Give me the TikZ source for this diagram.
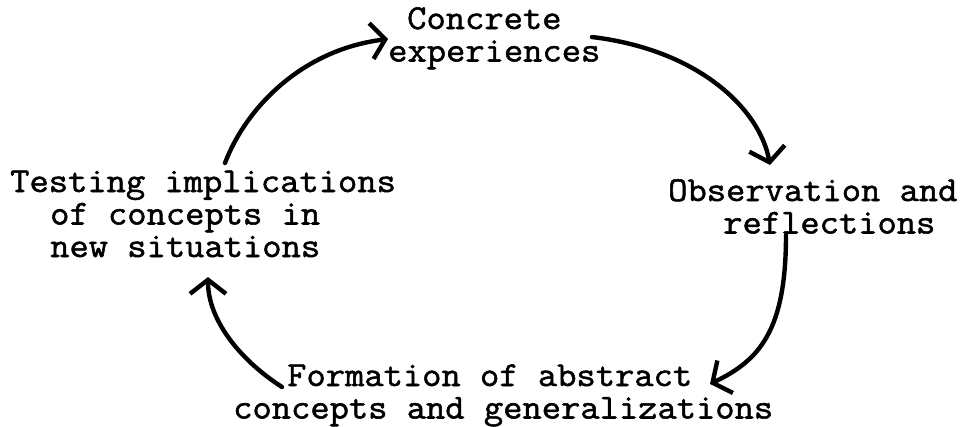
\documentclass[tikz,border=0pt]{standalone}
\usepackage{fontspec}
\usetikzlibrary{arrows.meta,calc}
\newfontfamily\typew{Latin Modern Mono}[FakeStretch=1.07,FakeBold=1.5]
\newcommand{\lblfont}{\typew\fontsize{35}{32.5}\selectfont}
\newcommand{\lines}[1]{\begin{tabular}[t]{@{}l@{}}#1\end{tabular}}
\tikzset{
  lbl/.style={inner sep=0pt, anchor=base west, font=\lblfont},
  arr/.style={line width=4.4pt, line cap=round, -{Straight Barb[length=14pt,width=36pt]}}
}
\begin{document}
\begin{tikzpicture}[x=1pt,y=-1pt]
\fill[white] (0,0) rectangle (966,426);
\useasboundingbox (0,0) rectangle (966,426);
\node[lbl] (conc) at (388,29) {\lines{\hspace*{19pt}Concrete\\experiences}};
\node[lbl] (obs) at (668,201) {\lines{Observation and\\\hspace*{55pt}reflections}};
\node[lbl] (test) at (10,192) {\lines{Testing implications\\\hspace*{40pt}of concepts in\\\hspace*{40pt}new situations}};
\node[lbl] (form) at (233,386) {\lines{\hspace*{54pt}Formation of abstract\\concepts and generalizations}};
\draw[arr] ($(test.base west)+(215,-29)$) .. controls (245,110) and (300,50) .. ($(conc.base west)+(0,10)$);
\draw[arr] ($(conc.base west)+(204,8)$) .. controls (700,50) and (760,110) .. ($(obs.base west)+(102,-36)$);
\draw[arr] ($(obs.base west)+(118,34)$) .. controls (786,330) and (760,360) .. ($(form.base west)+(477,-2)$);
\draw[arr] ($(form.base west)+(49,1)$) .. controls (240,360) and (208,320) .. ($(test.base west)+(198,85)$);
\end{tikzpicture}
\end{document}
